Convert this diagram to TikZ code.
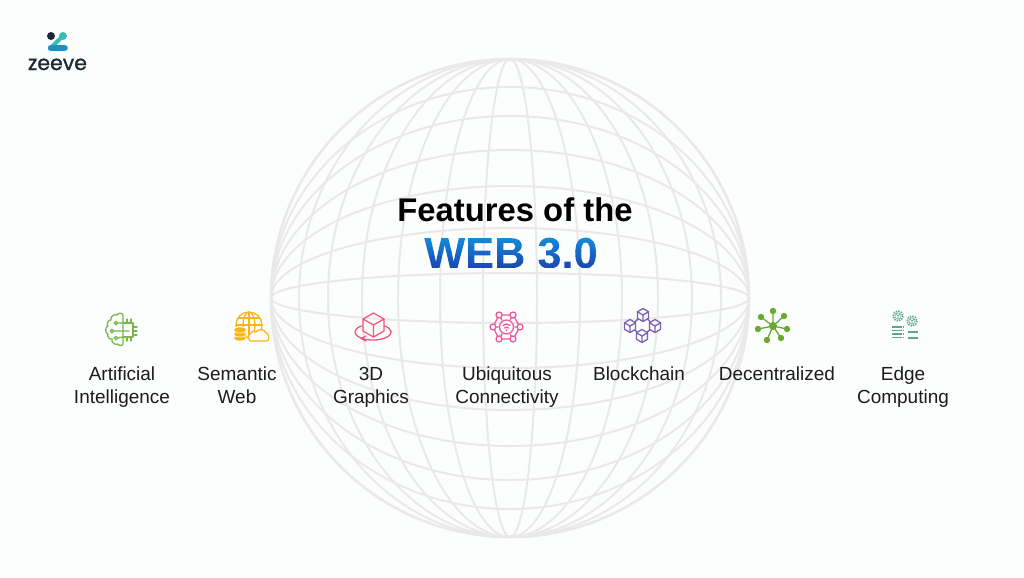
\documentclass[tikz,border=0pt]{standalone}
\usepackage{fontspec}
\setmainfont{Liberation Sans}
\newfontfamily\logofont[FakeBold=1.2]{Poppins}

\definecolor{pagebg}{HTML}{FCFDFD}
\definecolor{globegray}{HTML}{E9E9E9}
\definecolor{labeltext}{HTML}{1C1C1C}
\definecolor{logodark}{HTML}{1C2838}
\definecolor{logoteal}{HTML}{3ABBB8}
\definecolor{logoblue}{HTML}{1D8FC0}
\definecolor{webtop}{HTML}{1090DC}
\definecolor{webbottom}{HTML}{1C48B4}
\definecolor{aigreen}{HTML}{7AB648}
\definecolor{weborange}{HTML}{FDB515}
\definecolor{gfxred}{HTML}{F4557C}
\definecolor{netpink}{HTML}{EE5A9E}
\definecolor{chainpurple}{HTML}{7B5FB5}
\definecolor{nodegreen}{HTML}{6AA82F}
\definecolor{edgeteal}{HTML}{5BA88A}

% colour bands painted through the letters of the title
\newcommand\webbands{\llap{\hbox to 152pt{\foreach \k in {0,...,13}{\pgfmathsetmacro\m{100*\k/13}\pgfmathsetmacro\h{2*\k}\rlap{\color{webtop!\m!webbottom}\rule[\h pt]{152pt}{2.1pt}}}\hss}}}

\tikzset{
  gridline/.style={draw=globegray, line width=1.7pt},
  featurelabel/.style={font=\fontsize{16.2}{19.6}\selectfont, text=labeltext, align=center, inner sep=0pt, anchor=base},
  iconline/.style={line width=1.1pt, line join=round, line cap=round},
  cubeicon/.pic={
    \draw[iconline, draw=chainpurple, fill=pagebg] (0,-6.5) -- (5.6,-3.2) -- (5.6,3.2) -- (0,6.5) -- (-5.6,3.2) -- (-5.6,-3.2) -- cycle;
    \draw[iconline, draw=chainpurple] (-5.6,-3.2) -- (0,0) -- (5.6,-3.2) (0,0) -- (0,6.5);
  },
  gearicon/.pic={
    \draw[edgeteal, line width=1.3pt, dash pattern=on 1.2pt off 1pt] (0,0) circle (5);
    \draw[edgeteal, line width=0.5pt] (0,0) circle (3.2);
    \draw[edgeteal, line width=0.6pt] (0,3) -- (0,0) -- (-1.8,-1.8) (0,0) -- (1.8,-1.8);
  }
}

\begin{document}
\begin{tikzpicture}[x=0.03cm, y=-0.03cm]
  \fill[pagebg] (0,0) rectangle (1024,577);
  \useasboundingbox (0,0) rectangle (1024,577);

  % globe: meridians
  \draw[gridline] (510,298) ellipse (27 and 239);
  \draw[gridline] (510,298) ellipse (70 and 239);
  \draw[gridline] (510,298) ellipse (112 and 239);
  \draw[gridline] (510,298) ellipse (148 and 239);
  \draw[gridline] (510,298) ellipse (182 and 239);
  \draw[gridline] (510,298) ellipse (211 and 239);
  % globe: parallels
  \draw[gridline] (510,298) ellipse (239 and 25);
  \draw[gridline] (510,298) ellipse (239 and 70);
  \draw[gridline] (510,298) ellipse (239 and 112);
  \draw[gridline] (510,298) ellipse (239 and 148);
  \draw[gridline] (510,298) ellipse (239 and 182);
  \draw[gridline] (510,298) ellipse (239 and 211);
  \draw[draw=globegray, line width=2.2pt] (510,298) circle (239);

  % logo
  \fill[logodark] (51,36) circle (4);
  \draw[draw=logoteal, line width=3.4pt, line cap=round] (63,36) -- (51,47.5);
  \fill[logoteal] (63,36) circle (4);
  \draw[draw=logoblue, line width=5.6pt, line cap=round] (51,48) -- (64.5,48);
  \node[inner sep=0pt, anchor=base, text=logodark, font=\logofont\fontsize{17.5}{20}\selectfont] (logotext) at (57.5,70) {zeeve};

  % title
  \node[inner sep=0pt, anchor=base, text=black, font=\bfseries\fontsize{28}{32}\selectfont] (title) at (515,221) {Features of the};
  \node[inner sep=0pt, anchor=base, font=\bfseries\fontsize{37}{42}\selectfont] (web) at (511,268) {\special{pdf:code q 7 Tr}WEB 3.0\special{pdf:code 0 Tr}\webbands\special{pdf:code Q}};

  % icon: artificial intelligence
  \draw[iconline, draw=aigreen] (123,315) to[bend right=80] (117,315) to[bend right=80] (111,320) to[bend right=80] (108,326) to[bend right=80] (108,334) to[bend right=80] (112,339) to[bend right=80] (118,344) to[bend right=80] (123,344) -- cycle;
  \draw[iconline, draw=aigreen] (123,323) -- (133,323) -- (133,337) -- (123,337);
  \draw[iconline, draw=aigreen] (127,319) -- (127,323) (131,319) -- (131,323) (133,327) -- (137,327) (133,331) -- (137,331) (133,335) -- (137,335) (127,337) -- (127,341) (131,337) -- (131,341);
  \draw[iconline, draw=aigreen] (116,323) circle (1.8) (117.8,323) -- (123,323);
  \draw[iconline, draw=aigreen] (112,331) circle (1.8) (113.8,331) -- (129,331);
  \draw[iconline, draw=aigreen] (116,338) circle (1.8) (117.8,338) -- (123,337);

  % icon: semantic web
  \draw[iconline, draw=weborange] (249,325) circle (13);
  \draw[iconline, draw=weborange] (249,325) ellipse (6 and 13);
  \draw[iconline, draw=weborange] (249,312) -- (249,338) (236,325) -- (262,325) (238,318) -- (260,318);
  \draw[draw=pagebg, fill=weborange, line width=0.5pt] (240,338) ellipse (6.5 and 3);
  \draw[draw=pagebg, fill=weborange, line width=0.5pt] (240,334) ellipse (6.5 and 3);
  \draw[draw=pagebg, fill=weborange, line width=0.5pt] (240,330) ellipse (6.5 and 3);
  \draw[iconline, draw=weborange, fill=pagebg] (251,341) to[bend left=80] (250,334) to[bend left=60] (256,332) to[bend left=70] (266,333) to[bend left=80] (267,341) -- cycle;

  % icon: 3D graphics
  \draw[iconline, draw=gfxred] (384.6,325.9) arc (-50:230:18 and 8);
  \draw[iconline, draw=gfxred] (373.5,313) -- (384,319) -- (384,331) -- (373.5,337) -- (363,331) -- (363,319) -- cycle;
  \draw[iconline, draw=gfxred] (363,319) -- (373.5,325) -- (384,319) (373.5,325) -- (373.5,337);
  \draw[iconline, draw=gfxred] (366,336) -- (361,338.5) -- (366,341);

  % icon: ubiquitous connectivity
  \draw[iconline, draw=netpink] (499,315) -- (513,315) -- (520,327) -- (513,339) -- (499,339) -- (493,327) -- cycle;
  \draw[iconline, draw=netpink] (499,315) -- (513,339) (513,315) -- (499,339) (493,327) -- (520,327);
  \fill[pagebg] (506.5,327) circle (8);
  \draw[iconline, draw=netpink] (506.5,327) circle (7);
  \draw[iconline, draw=netpink] (503,325.5) to[bend left=50] (510,325.5) (504.5,328) to[bend left=50] (508.5,328);
  \fill[netpink] (506.5,330) circle (1);
  \draw[iconline, draw=netpink, fill=pagebg] (499,315) circle (3);
  \draw[iconline, draw=netpink, fill=pagebg] (513,315) circle (3);
  \draw[iconline, draw=netpink, fill=pagebg] (493,327) circle (3);
  \draw[iconline, draw=netpink, fill=pagebg] (520,327) circle (3);
  \draw[iconline, draw=netpink, fill=pagebg] (499,339) circle (3);
  \draw[iconline, draw=netpink, fill=pagebg] (513,339) circle (3);

  % icon: blockchain
  \draw[iconline, draw=chainpurple] (643,315) -- (630,326) -- (642,336) -- (655,326) -- cycle;
  \pic at (643,315) {cubeicon};
  \pic at (630,326) {cubeicon};
  \pic at (655,326) {cubeicon};
  \pic at (642,336) {cubeicon};

  % icon: decentralized
  \draw[iconline, draw=nodegreen] (773,326) -- (773,311) (773,326) -- (784,316) (773,326) -- (787,329) (773,326) -- (781,338) (773,326) -- (767,340) (773,326) -- (758,329) (773,326) -- (761,317);
  \fill[nodegreen] (773,326) circle (4);
  \fill[nodegreen] (773,311) circle (3.2);
  \fill[nodegreen] (784,316) circle (3.2);
  \fill[nodegreen] (787,329) circle (3.2);
  \fill[nodegreen] (781,338) circle (3.2);
  \fill[nodegreen] (767,340) circle (3.2);
  \fill[nodegreen] (758,329) circle (3.2);
  \fill[nodegreen] (761,317) circle (3.2);

  % icon: edge computing
  \pic at (898,316) {gearicon};
  \pic at (912,321) {gearicon};
  \draw[edgeteal, line width=1.2pt, dash pattern=on 1.4pt off 0.4pt] (892,327) -- (903,327) (892,330.5) -- (903,330.5) (892,334) -- (903,334) (892,337.5) -- (903,337.5);
  \draw[edgeteal, line width=1.2pt, dash pattern=on 1.4pt off 0.4pt] (908,332) -- (918,332) (908,338) -- (918,338);

  % labels
  \node[featurelabel] (ailabel) at (122,403) {Artificial\\Intelligence};
  \node[featurelabel] (weblabel) at (237,403) {Semantic\\Web};
  \node[featurelabel] (gfxlabel) at (371,403) {3D\\Graphics};
  \node[featurelabel] (netlabel) at (507,403) {Ubiquitous\\Connectivity};
  \node[featurelabel] (chainlabel) at (639,380) {Blockchain};
  \node[featurelabel] (nodelabel) at (777,380) {Decentralized};
  \node[featurelabel] (edgelabel) at (903,403) {Edge\\Computing};
\end{tikzpicture}
\end{document}
